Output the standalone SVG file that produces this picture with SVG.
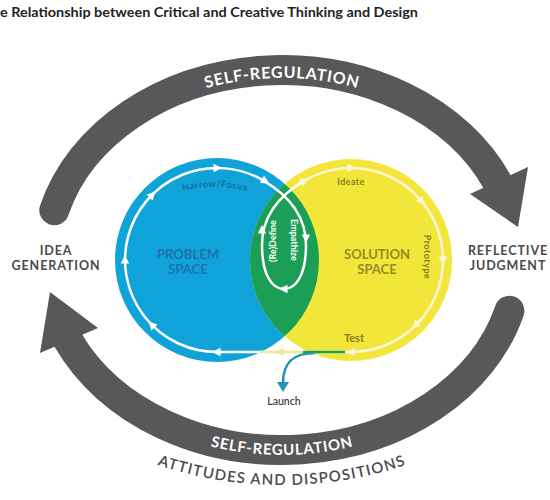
<svg xmlns="http://www.w3.org/2000/svg" xmlns:xlink="http://www.w3.org/1999/xlink" width="550" height="500" viewBox="0 0 550 500">
<style>
.band{fill:none;stroke:#58585a;stroke-width:30}
.head{fill:#58585a}
.lbl{font-family:Lato,"Open Sans","DejaVu Sans",sans-serif;font-weight:700}
.side{font-size:12.5px;fill:#4a4a4a;letter-spacing:0.9px;text-anchor:middle}
.sr{font-size:16px;fill:#ffffff;letter-spacing:0.8px}
.ring{fill:none;stroke-width:2.5}
.small{font-family:Lato,"Open Sans","DejaVu Sans",sans-serif;font-weight:700;font-size:9px}
</style>
<defs>
<path id="ah" d="M5 0 L-3.5 -4.2 L-3.5 4.2 Z"/>
<clipPath id="blueClip"><circle cx="217" cy="260" r="102"/></clipPath>
<path id="topPath" d="M 84.5 169 A 228 182 0 0 1 479.5 169"/>
<path id="botPath" d="M 63.6 342.4 A 241 195 0 0 0 500.4 342.4"/>
<path id="attPath" d="M 0.1 337 A 300 225 0 0 0 563.9 337"/>
<path id="narrowPath" d="M 150 204.4 A 130 130 0 0 1 280 204.4"/>
</defs>
<rect width="550" height="500" fill="#ffffff"/>

<g id="title">
<text x="0" y="17" class="lbl" font-size="14" fill="#222222" textLength="418" lengthAdjust="spacingAndGlyphs">e Relationship between Critical and Creative Thinking and Design</text>
</g>

<g id="problem-space">
<circle cx="217" cy="260" r="102" fill="#10a3da"/>
</g>
<g id="solution-space">
<circle cx="351" cy="260" r="101" fill="#f3e63a"/>
</g>
<g id="overlap">
<circle cx="351" cy="260" r="101" fill="#1b9e55" clip-path="url(#blueClip)"/>
</g>

<g id="connectors">
<path class="band" d="M 54.3 210.2 A 236 190 0 0 1 497.6 182.7" stroke-linecap="round"/>
<polygon class="head" points="470,194 528,167 518,227"/>
<path class="band" d="M 509.4 310.8 A 236 190 0 0 1 68.1 340.3" stroke-linecap="round"/>
<polygon class="head" points="40,353 98,328 50,292"/>

<path class="ring" stroke="#ffffff" d="M 217 352 A 92 92 0 1 1 263 180.3"/>
<path class="ring" stroke="#ffffff" d="M 263 180.3 C 284 192.5, 306 213, 306 245 C 306 275, 296 289, 284 289 C 272 289, 262 275, 262 245 C 262 213, 284 192.5, 305 180.3"/>
<path class="ring" stroke="#fbf7d6" d="M 305 180.3 A 92 92 0 1 1 351 352"/>
<line class="ring" stroke="#ffffff" x1="351" y1="352" x2="217" y2="352"/>
<line class="ring" stroke="#f1ea95" x1="303" y1="352" x2="259" y2="352"/>
<line class="ring" stroke="#1b9e55" x1="345" y1="352" x2="303" y2="352"/>
<path d="M 315 353 C 296 353, 283 360, 283 383" fill="none" stroke="#1f93b8" stroke-width="2.5"/>
<polygon points="277,382 289,382 283,392" fill="#1f93b8"/>

<g fill="#ffffff">
<use xlink:href="#ah" transform="translate(217,352) rotate(180)"/>
<use xlink:href="#ah" transform="translate(152,325) rotate(225)"/>
<use xlink:href="#ah" transform="translate(125,260) rotate(270)"/>
<use xlink:href="#ah" transform="translate(152,195) rotate(315)"/>
<use xlink:href="#ah" transform="translate(217,168) rotate(0)"/>
<use xlink:href="#ah" transform="translate(265,181) rotate(30)"/>
<use xlink:href="#ah" transform="translate(306,238) rotate(90)"/>
<use xlink:href="#ah" transform="translate(284,289) rotate(180)"/>
<use xlink:href="#ah" transform="translate(262,230) rotate(270)"/>
</g>
<g fill="#fbf7d6">
<use xlink:href="#ah" transform="translate(304,181) rotate(-30)"/>
<use xlink:href="#ah" transform="translate(351,168) rotate(0)"/>
<use xlink:href="#ah" transform="translate(421.5,200.9) rotate(50)"/>
<use xlink:href="#ah" transform="translate(443,260) rotate(90)"/>
<use xlink:href="#ah" transform="translate(416,325) rotate(135)"/>
<use xlink:href="#ah" transform="translate(351,352) rotate(180)"/>
</g>
<use xlink:href="#ah" fill="#f1ea95" transform="translate(280,352) rotate(180)"/>
</g>

<g id="self-regulation-top">
<text class="lbl sr" text-anchor="middle"><textPath xlink:href="#topPath" startOffset="50%">SELF-REGULATION</textPath></text>
</g>
<g id="self-regulation-bottom">
<text class="lbl sr" text-anchor="middle" style="font-size:15px"><textPath xlink:href="#botPath" startOffset="50%">SELF-REGULATION</textPath></text>
</g>
<g id="attitudes">
<text font-family="Lato, 'Open Sans', sans-serif" font-weight="600" font-size="15" fill="#4a4a4a" letter-spacing="1.2" text-anchor="middle"><textPath xlink:href="#attPath" startOffset="50%">ATTITUDES AND DISPOSITIONS</textPath></text>
</g>

<g id="idea-generation">
<text class="lbl side" x="56" y="255">IDEA</text>
<text class="lbl side" x="56" y="270">GENERATION</text>
</g>
<g id="reflective-judgment">
<text class="lbl side" x="508" y="255" letter-spacing="0.6">REFLECTIVE</text>
<text class="lbl side" x="508" y="270" letter-spacing="0.6">JUDGMENT</text>
</g>

<g id="problem-label">
<text class="lbl" font-size="13" fill="#1d72ad" text-anchor="middle" x="188" y="259">PROBLEM</text>
<text class="lbl" font-size="13" fill="#1d72ad" text-anchor="middle" x="188" y="274">SPACE</text>
</g>
<g id="solution-label">
<text class="lbl" font-size="13" fill="#968b25" text-anchor="middle" x="377" y="259">SOLUTION</text>
<text class="lbl" font-size="13" fill="#968b25" text-anchor="middle" x="377" y="274">SPACE</text>
</g>

<g id="narrow-focus">
<text class="small" fill="#1d6aa0" letter-spacing="0.6" text-anchor="middle"><textPath xlink:href="#narrowPath" startOffset="50%">Narrow/Focus</textPath></text>
</g>
<g id="ideate">
<text class="small" fill="#8a7e1e" x="351" y="185" text-anchor="middle" letter-spacing="0.4">Ideate</text>
</g>
<g id="prototype">
<text class="small" fill="#8a7e1e" text-anchor="middle" letter-spacing="0.5" transform="translate(424,257) rotate(90)">Prototype</text>
</g>
<g id="test">
<text class="lbl" font-size="11" fill="#8a7e1e" text-anchor="middle" x="354" y="342">Test</text>
</g>
<g id="empathize">
<text class="small" fill="#ffffff" text-anchor="middle" transform="translate(291,240) rotate(90)">Empathize</text>
</g>
<g id="redefine">
<text class="small" fill="#ffffff" text-anchor="middle" transform="translate(276,241) rotate(-90)">(Re)Define</text>
</g>
<g id="launch">
<text class="lbl" font-size="10.5" fill="#444444" text-anchor="middle" x="284" y="405" style="font-weight:600">Launch</text>
</g>
</svg>
